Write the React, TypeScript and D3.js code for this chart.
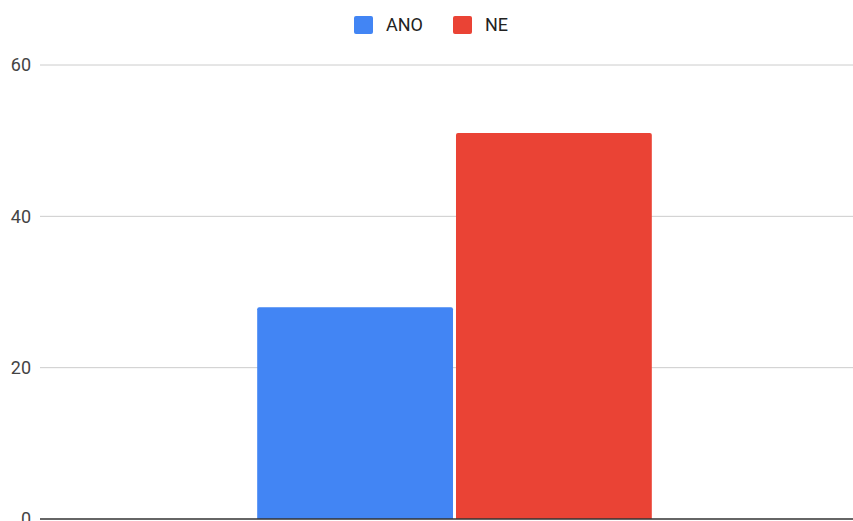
import React from "react";
import * as d3 from "d3";

const categories = [""];
const seriesNames = ["ANO", "NE"];
const seriesValues = [28, 51];
const seriesColors = ["#4285f4", "#ea4335"];
const yTicks = [0, 20, 40, 60];

const W = 853;
const H = 521;

export default function App() {
  const y = d3.scaleLinear().domain([0, 60]).range([519, 65]);
  const x0 = d3.scaleBand().domain(categories).range([40, 869]).padding(0.355);
  const x1 = d3
    .scaleBand()
    .domain(seriesNames)
    .range([0, x0.bandwidth()])
    .paddingInner(0.015);

  const font = "Roboto, Arial, sans-serif";
  return (
    <svg
      width={W}
      height={H}
      style={{ position: "absolute", left: 0, top: 0, background: "#fff" }}
      fontFamily={font}
    >
      {yTicks.map((t) =>
        t === 0 ? null : (
          <line key={t} x1={40} x2={W} y1={y(t)} y2={y(t)} stroke="#cccccc" strokeWidth={1} />
        )
      )}
      {yTicks.map((t) => (
        <text
          key={"l" + t}
          x={31}
          y={y(t)}
          dy="0.36em"
          textAnchor="end"
          fontSize={18}
          fill="#444444"
        >
          {t}
        </text>
      ))}
      {categories.map((c) => (
        <g key={c} transform={`translate(${x0(c)},0)`}>
          {seriesNames.map((s, i) => {
            const bx = x1(s)!;
            const top = y(seriesValues[i]);
            const h = y(0) - top;
            const r = 2;
            const w = x1.bandwidth();
            const path = `M${bx},${top + h} V${top + r} Q${bx},${top} ${bx + r},${top} H${bx + w - r} Q${bx + w},${top} ${bx + w},${top + r} V${top + h} Z`;
            return <path key={s} d={path} fill={seriesColors[i]} />;
          })}
        </g>
      ))}
      <line x1={40} x2={W} y1={y(0)} y2={y(0)} stroke="#333333" strokeWidth={1.5} />
      {seriesNames.map((s, i) => {
        const lx = i === 0 ? 354 : 453;
        return (
          <g key={"lg" + s}>
            <rect x={lx} y={16} width={19} height={18} rx={2} fill={seriesColors[i]} />
            <text x={lx + 32} y={25} dy="0.36em" fontSize={18} fill="#222222">
              {s}
            </text>
          </g>
        );
      })}
    </svg>
  );
}
